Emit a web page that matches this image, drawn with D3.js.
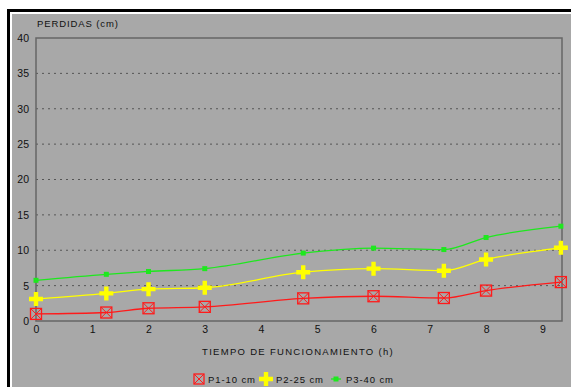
<!DOCTYPE html>
<html>
<head>
<meta charset="utf-8">
<script src="https://cdn.jsdelivr.net/npm/d3@7"></script>
<style>
  html, body { margin: 0; padding: 0; background: #a8a8a8; }
  svg { display: block; }
  text { font-family: "Liberation Sans", Arial, sans-serif; fill: #111; }
</style>
</head>
<body>
<svg id="chart" width="571" height="387"></svg>
<script>
// Operating time (h) for each measurement
const horas = [0, 1.25, 2, 3, 4.75, 6, 7.25, 8, 9.33];
// Losses (cm) per depth
const p1 = [1.0, 1.2, 1.8, 2.0, 3.2, 3.5, 3.25, 4.3, 5.5];
const p2 = [3.1, 3.9, 4.5, 4.7, 6.9, 7.4, 7.1, 8.7, 10.35];
const p3 = [5.75, 6.6, 7.0, 7.4, 9.6, 10.3, 10.1, 11.8, 13.4];
const seriesNames = ["P1-10 cm", "P2-25 cm", "P3-40 cm"];
const xTicks = [0, 1, 2, 3, 4, 5, 6, 7, 8, 9];
const yTicks = [0, 5, 10, 15, 20, 25, 30, 35, 40];

const svg = d3.select("#chart");
const W = 571, H = 387;

// outer frame: black edge with thin white inner edge on top and left
svg.append("rect").attr("x", 0).attr("y", 0).attr("width", W).attr("height", H).attr("fill", "#fff");
svg.append("rect").attr("x", 7).attr("y", 9).attr("width", W - 7).attr("height", H - 9).attr("fill", "#000");
svg.append("rect").attr("x", 10).attr("y", 12).attr("width", W - 10).attr("height", H - 12).attr("fill", "#fff");
svg.append("rect").attr("x", 12).attr("y", 14).attr("width", W - 12).attr("height", H - 14).attr("fill", "#a8a8a8");

const m = { left: 36, top: 38, right: 562, bottom: 321 };
const x = d3.scaleLinear().domain([0, 9.35]).range([m.left, m.right]);
const y = d3.scaleLinear().domain([0, 40]).range([m.bottom, m.top]);

// dotted gridlines
svg.append("g").selectAll("line").data(yTicks.filter(d => d > 0 && d < 40)).join("line")
  .attr("x1", m.left).attr("x2", m.right)
  .attr("y1", d => y(d)).attr("y2", d => y(d))
  .attr("stroke", "#555").attr("stroke-width", 1).attr("stroke-dasharray", "2,4");

// plot frame
svg.append("rect").attr("x", m.left).attr("y", m.top)
  .attr("width", m.right - m.left).attr("height", m.bottom - m.top)
  .attr("fill", "none").attr("stroke", "#666").attr("stroke-width", 1.5);

// y axis labels
const yAxis = d3.axisLeft(y).tickValues(yTicks).tickSize(0).tickPadding(7);
const gy = svg.append("g").attr("transform", `translate(${m.left},0)`).call(yAxis);
gy.select(".domain").remove();
gy.selectAll("text").attr("font-size", 10.5).attr("fill", "#111")
  .style("font-family", "Liberation Sans, Arial, sans-serif");

// x axis labels
const xAxis = d3.axisBottom(x).tickValues(xTicks).tickSize(0).tickPadding(5);
const gx = svg.append("g").attr("transform", `translate(0,${m.bottom})`).call(xAxis);
gx.select(".domain").remove();
gx.selectAll("text").attr("font-size", 10.5).attr("fill", "#111")
  .style("font-family", "Liberation Sans, Arial, sans-serif");

// axis titles
svg.append("text").attr("x", 37).attr("y", 27).attr("font-size", 9.5)
  .attr("letter-spacing", 0.9).text("PERDIDAS (cm)");
svg.append("text").attr("x", 298).attr("y", 355).attr("font-size", 9.5)
  .attr("letter-spacing", 1.3).attr("text-anchor", "middle").text("TIEMPO DE FUNCIONAMIENTO (h)");

const colors = ["#ff1a1a", "#ffff00", "#1ee81e"];
const data = [p1, p2, p3].map(vals => vals.map((v, i) => ({ t: horas[i], v })));

const line = d3.line().x(d => x(d.t)).y(d => y(d.v)).curve(d3.curveMonotoneX);

// markers
function boxX(g, cx, cy, s) {
  g.append("rect").attr("x", cx - s).attr("y", cy - s).attr("width", 2 * s).attr("height", 2 * s)
    .attr("fill", "none").attr("stroke", colors[0]).attr("stroke-width", 1.3);
  g.append("path").attr("d", `M${cx - s},${cy - s}L${cx + s},${cy + s}M${cx + s},${cy - s}L${cx - s},${cy + s}`)
    .attr("stroke", colors[0]).attr("stroke-width", 1);
}
function plus(g, cx, cy) {
  g.append("path").attr("d", `M${cx - 7},${cy - 2.2}h4.8v-4.8h4.4v4.8h4.8v4.4h-4.8v4.8h-4.4v-4.8h-4.8z`)
    .attr("fill", colors[1]);
}
function sq(g, cx, cy) {
  g.append("rect").attr("x", cx - 2.5).attr("y", cy - 2.5).attr("width", 5).attr("height", 5).attr("fill", colors[2]);
}

data.forEach((s, k) => {
  svg.append("path").datum(s).attr("d", line).attr("fill", "none")
    .attr("stroke", colors[k]).attr("stroke-width", 1.3);
});
const mk = svg.append("g");
data[0].forEach(d => boxX(mk, x(d.t), y(d.v), 5.5));
data[1].forEach(d => plus(mk, x(d.t), y(d.v)));
data[2].forEach(d => sq(mk, x(d.t), y(d.v)));

// legend
const lg = svg.append("g");
const ly = 379;
boxX(lg, 199, ly, 5);
lg.append("text").attr("x", 208).attr("y", ly + 4).attr("font-size", 9.5).attr("letter-spacing", 0.9).text(seriesNames[0]);
plus(lg, 266, ly);
lg.append("text").attr("x", 276).attr("y", ly + 4).attr("font-size", 9.5).attr("letter-spacing", 0.9).text(seriesNames[1]);
lg.append("line").attr("x1", 331).attr("x2", 341).attr("y1", ly).attr("y2", ly).attr("stroke", colors[2]).attr("stroke-width", 1.3);
sq(lg, 336, ly);
lg.append("text").attr("x", 346).attr("y", ly + 4).attr("font-size", 9.5).attr("letter-spacing", 0.9).text(seriesNames[2]);
</script>
</body>
</html>
